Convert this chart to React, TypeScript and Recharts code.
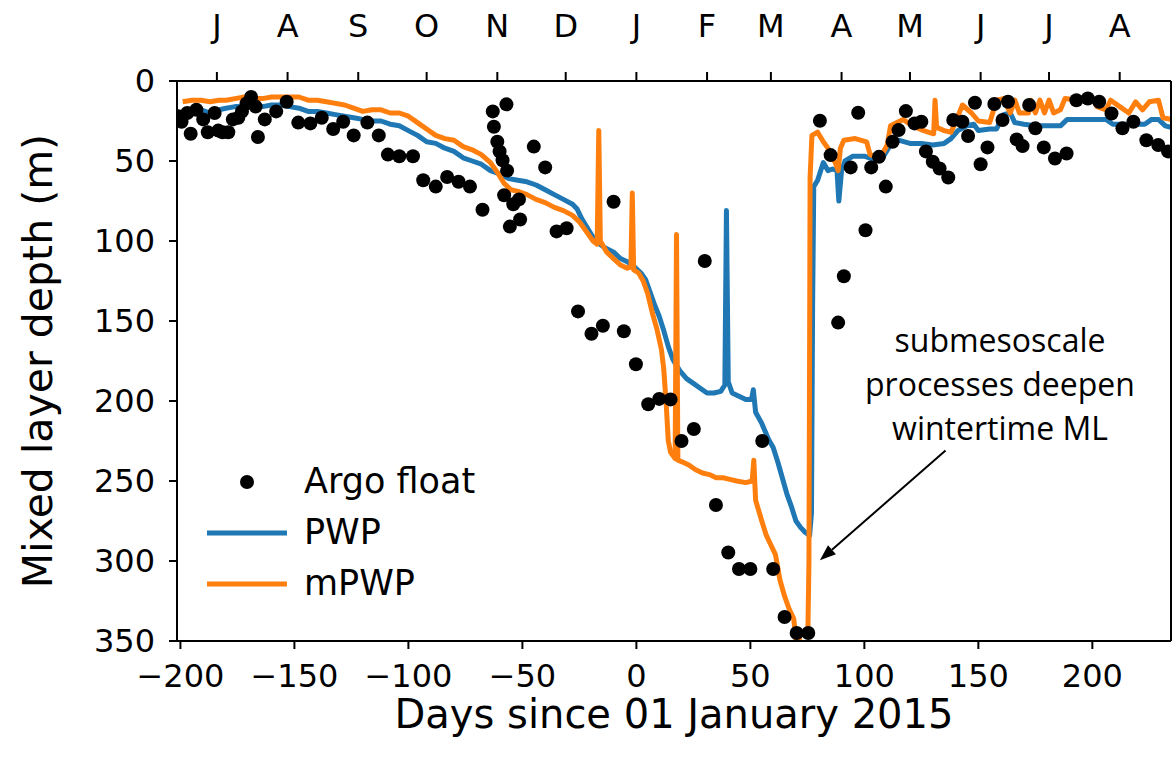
import React from "react";
import {
  ComposedChart,
  Line,
  Scatter,
  XAxis,
  YAxis,
  Legend,
  ReferenceLine,
} from "recharts";

// x = days since 01 January 2015, y = mixed layer depth (m)
const argoFloat: [number, number][] = [
  [-201, 22], [-199.5, 25.5], [-197, 20], [-195.5, 33], [-193, 18], [-190, 24],
  [-188, 32], [-185, 20], [-183.4, 31], [-181.5, 32], [-179, 32], [-177, 24],
  [-174.6, 23], [-173, 19], [-171, 14], [-169, 10], [-167, 16], [-166, 35],
  [-163, 24], [-158, 19], [-153.4, 13], [-148.3, 26], [-143, 26.5], [-138, 23],
  [-133, 30], [-128.6, 25.5], [-124, 34], [-118, 26], [-113, 34], [-109, 46],
  [-104, 47], [-98, 47], [-93.5, 62], [-88, 66], [-83, 60], [-78, 63], [-73, 66],
  [-67.5, 80.5], [-63, 19], [-62.5, 28.6], [-61, 38], [-60, 44], [-58.7, 49.5],
  [-58, 71.4], [-57, 14.6], [-56.7, 56], [-55.5, 91], [-54, 77], [-51.5, 74],
  [-51, 86.6], [-45, 41], [-40, 54], [-35, 94], [-30.6, 92], [-25.6, 144],
  [-19.7, 158], [-14.7, 153], [-10, 75.5], [-5.5, 156.4], [-0.2, 177], [5.2, 202],
  [10, 198.7], [15, 199], [19.8, 225], [25.2, 217.5], [30, 112.5], [34.9, 265],
  [40.3, 294.7], [45, 305], [50, 305], [55.2, 225], [60, 305], [65, 335],
  [70.3, 345], [75.4, 345], [80.5, 24.8], [85.2, 46.3], [88.5, 151], [91, 122],
  [94, 54], [97.3, 19.8], [100.5, 93.3], [103, 54], [106.4, 47.4], [109.4, 66],
  [112.4, 38], [115, 30.7], [118.2, 18.8], [122, 26.5], [125, 25.5], [127, 44],
  [130, 50.5], [133, 54.7], [136.8, 60.3], [139, 24.4], [143, 25.5], [145.5, 34.4],
  [148.5, 13.6], [151, 52], [154, 41.5], [157, 14.4], [160.6, 24.4], [163, 13],
  [166.8, 36.5], [169.4, 40.7], [172.3, 15], [175, 29.6], [178.7, 41.5],
  [183.6, 48.4], [188.7, 45.3], [193, 12], [198, 10.9], [203, 13], [208.4, 20.3],
  [213.2, 29.6], [218, 25.5], [223.7, 37], [228.9, 40], [233.2, 44],
];

const pwp: [number, number][] = [
  [-199, 20], [-195, 19], [-191, 18], [-187, 20], [-183, 18], [-180, 17], [-176, 16],
  [-172, 16], [-168, 15], [-164, 16], [-160, 15], [-156, 15], [-152, 16], [-148, 17],
  [-144, 19], [-140, 19], [-136, 20], [-132, 21], [-128, 22], [-124, 23], [-120, 24],
  [-116, 25], [-112, 25], [-108, 27], [-104, 28], [-100, 31], [-96, 34], [-92, 38],
  [-88, 39], [-84, 42], [-80, 44], [-76, 48], [-72, 50], [-68, 52], [-64, 56],
  [-60, 58], [-56, 61], [-52, 62], [-48, 63], [-44, 65], [-40, 68], [-36, 71],
  [-32, 74], [-28, 77], [-26, 80], [-24, 86], [-21, 93], [-18, 100], [-14, 104],
  [-10, 107], [-7, 111], [-4, 113], [-1, 116], [2, 120], [4, 124], [6, 132], [8, 140],
  [10, 147], [12, 156], [14, 166], [16, 174], [19, 181], [22, 186], [25, 189],
  [28, 192], [31, 195], [34, 195], [37, 194], [38.8, 190], [39.5, 81], [40.3, 188],
  [42, 195], [45, 197], [48, 199], [50.5, 199], [51.3, 193], [52.3, 207], [55, 214],
  [58, 224], [60, 229], [62, 238], [64, 248], [66, 258], [68, 266], [70, 275],
  [72, 279], [74, 282], [76, 284], [76.8, 270], [77.3, 140], [77.8, 66], [79.5, 62],
  [82, 51], [84, 56], [86, 55], [88, 56], [88.8, 75], [90, 56], [91.5, 50], [95, 47],
  [100, 47], [104, 49], [108, 48], [111, 41], [115, 37], [120, 39], [125, 39],
  [130, 40], [135, 39], [138, 36], [141, 31], [145, 28], [148, 27], [150, 31],
  [155, 30], [158, 30], [161, 21], [164, 20], [166, 26], [170, 27], [175, 28],
  [180, 28], [186, 28], [189, 24], [195, 24], [200, 24], [206, 24], [209, 27],
  [215, 27], [220, 27], [223, 27], [226, 24], [229, 24], [232, 28], [234.5, 29],
];

const mpwp: [number, number][] = [
  [-199, 13], [-195, 12], [-191, 12], [-187, 13], [-183, 12], [-180, 12], [-176, 11],
  [-172, 10], [-168, 11], [-164, 11], [-160, 10], [-156, 10], [-152, 10], [-148, 10],
  [-144, 12], [-140, 12], [-136, 13], [-132, 14], [-128, 15], [-124, 17], [-120, 19],
  [-116, 18], [-112, 18], [-108, 20], [-104, 20], [-100, 22], [-96, 26], [-92, 30],
  [-88, 34], [-84, 36], [-80, 37], [-76, 41], [-72, 43], [-68, 46], [-64, 51],
  [-61, 57], [-58, 64], [-55, 68], [-52, 69], [-48, 71], [-44, 74], [-40, 76],
  [-36, 79], [-32, 81], [-28, 84], [-25, 88], [-22, 94], [-19, 100], [-17.2, 102],
  [-16.5, 31], [-15.8, 100], [-13, 107], [-10, 111], [-7, 115], [-4, 117],
  [-2.4, 116], [-1.8, 70], [-1.2, 118], [1, 120], [3, 125], [5, 133], [7, 145],
  [9, 155], [11, 168], [12, 180], [13, 200], [14, 225], [15, 232], [17, 236],
  [17.6, 96], [18.2, 237], [20, 238], [23, 240], [26, 243], [29, 245], [32, 246],
  [35, 248], [38, 248], [41, 249], [44, 250], [48, 251], [50.8, 250], [51.5, 237],
  [52.3, 262], [55, 275], [57, 284], [59, 290], [61, 296], [63, 312], [65, 322],
  [67, 330], [69, 336], [70.5, 356], [72, 345], [74, 346], [75.2, 347], [75.7, 300],
  [76.2, 60], [77, 34], [79.5, 32], [82, 38], [85, 44], [87.5, 52], [88.5, 56],
  [89.5, 42], [91, 37], [96, 36], [101, 38], [102.5, 46], [107, 48], [110, 40],
  [111.5, 28], [117, 24], [121, 28], [126, 31], [130.4, 33], [131, 12], [131.7, 29],
  [135, 31], [138, 32], [140.5, 24], [143, 15], [147, 20], [150, 25], [155, 26],
  [158, 12], [161, 11], [164, 20], [166, 12], [168, 20], [172, 20], [173, 12],
  [175, 20], [177, 12], [179, 20], [181, 12], [183, 20], [186, 18], [188, 11],
  [194, 12], [200, 11], [202, 16], [206, 18], [208, 12], [212, 16], [216, 20],
  [219, 13], [222, 18], [225, 13], [229, 12], [231, 23], [234.5, 24],
];

const dayTicks = [-200, -150, -100, -50, 0, 50, 100, 150, 200];
const depthTicks = [0, 50, 100, 150, 200, 250, 300, 350];
const monthStarts = [-184, -153, -122, -92, -61, -31, 0, 31, 59, 90, 120, 151, 181, 212];
const monthLetters = ["J", "A", "S", "O", "N", "D", "J", "F", "M", "A", "M", "J", "J", "A"];

const annotationLines = ["submesoscale", "processes deepen", "wintertime ML"];
// arrow from the text down to the mPWP minimum (data coords)
const arrowFrom = { x: 135.6, y: 231 };
const arrowTo = { x: 80.5, y: 299.5 };

const PWP_COLOR = "#1f77b4";
const MPWP_COLOR = "#ff7f0e";
const FONT = "'DejaVu Sans', sans-serif";
const DAY_DOMAIN: [number, number] = [-201.5, 234.5];
const DEPTH_DOMAIN: [number, number] = [0, 350];

const toPoints = (rows: [number, number][]) =>
  rows.map(([day, depth]) => ({ day, depth }));

const legendItems = [
  { label: "Argo float", kind: "dot", color: "#000" },
  { label: "PWP", kind: "line", color: PWP_COLOR },
  { label: "mPWP", kind: "line", color: MPWP_COLOR },
];

function LegendBox() {
  return (
    <div style={{ fontFamily: FONT, fontSize: 35, color: "#000" }}>
      {legendItems.map((it) => (
        <div
          key={it.label}
          style={{ display: "flex", alignItems: "center", height: 51 }}
        >
          <svg width={104} height={20}>
            {it.kind === "dot" ? (
              <circle cx={47} cy={10} r={7} fill={it.color} />
            ) : (
              <line x1={7} y1={10} x2={87} y2={10} stroke={it.color} strokeWidth={5} />
            )}
          </svg>
          <span style={{ lineHeight: "51px" }}>{it.label}</span>
        </div>
      ))}
    </div>
  );
}

function Arrow(props: any) {
  const { x1, y1, x2, y2 } = props;
  const ang = Math.atan2(y2 - y1, x2 - x1);
  const len = 16;
  const half = 6;
  const bx = x2 - len * Math.cos(ang);
  const by = y2 - len * Math.sin(ang);
  const px = -Math.sin(ang) * half;
  const py = Math.cos(ang) * half;
  return (
    <g>
      <line x1={x1} y1={y1} x2={bx} y2={by} stroke="#000" strokeWidth={2} />
      <polygon
        points={`${x2},${y2} ${bx + px},${by + py} ${bx - px},${by - py}`}
        fill="#000"
      />
    </g>
  );
}

const ArgoDot = (p: any) => <circle cx={p.cx} cy={p.cy} r={7} fill="#000" />;

const axisLine = { stroke: "#000", strokeWidth: 2 };
const tickStyle = { fontSize: 32, fill: "#000", fontFamily: FONT };

export default function App() {
  return (
    <div style={{ position: "absolute", left: 0, top: 0, width: 1173, height: 765, background: "#fff" }}>
      <ComposedChart width={1173} height={765} margin={{ top: 0, right: 0, bottom: 0, left: 0 }}>
        <XAxis
          xAxisId="bottom"
          type="number"
          dataKey="day"
          domain={DAY_DOMAIN}
          allowDataOverflow
          ticks={dayTicks}
          interval={0}
          height={124}
          tickSize={8}
          tickMargin={15}
          tick={tickStyle}
          tickLine={axisLine}
          axisLine={axisLine}
          tickFormatter={(v: number) => String(v).replace("-", "\u2212")}
          label={{
            value: "Days since 01 January 2015",
            position: "insideBottom",
            offset: 37,
            style: { fontSize: 40, fill: "#000", fontFamily: FONT },
          }}
        />
        <XAxis
          xAxisId="top"
          orientation="top"
          type="number"
          dataKey="day"
          domain={DAY_DOMAIN}
          allowDataOverflow
          ticks={monthStarts}
          interval={0}
          height={81}
          tickSize={9}
          tickMargin={35}
          tick={tickStyle}
          tickLine={axisLine}
          axisLine={axisLine}
          tickFormatter={(v: number) => monthLetters[monthStarts.indexOf(v)]}
        />
        <YAxis
          yAxisId="depth"
          type="number"
          dataKey="depth"
          domain={DEPTH_DOMAIN}
          allowDataOverflow
          reversed
          ticks={depthTicks}
          interval={0}
          width={177}
          tickSize={8}
          tickMargin={14}
          tick={tickStyle}
          tickLine={axisLine}
          axisLine={axisLine}
          label={{
            value: "Mixed layer depth (m)",
            angle: -90,
            position: "insideLeft",
            offset: 37,
            style: { fontSize: 41, fill: "#000", fontFamily: FONT, textAnchor: "middle" },
          }}
        />
        <YAxis
          yAxisId="frame"
          orientation="right"
          type="number"
          domain={DEPTH_DOMAIN}
          allowDataOverflow
          width={2}
          tick={false}
          tickLine={false}
          axisLine={axisLine}
        />
        <Legend
          layout="vertical"
          align="center"
          verticalAlign="middle"
          content={() => <LegendBox />}
          wrapperStyle={{ left: 200, top: 456, width: 320 }}
        />
        <Line
          name="PWP"
          data={toPoints(pwp)}
          dataKey="depth"
          xAxisId="bottom"
          yAxisId="depth"
          type="linear"
          stroke={PWP_COLOR}
          strokeWidth={5}
          strokeLinejoin="round"
          dot={false}
          isAnimationActive={false}
        />
        <Line
          name="mPWP"
          data={toPoints(mpwp)}
          dataKey="depth"
          xAxisId="bottom"
          yAxisId="depth"
          type="linear"
          stroke={MPWP_COLOR}
          strokeWidth={5}
          strokeLinejoin="round"
          dot={false}
          isAnimationActive={false}
        />
        <Scatter
          name="Argo float"
          data={toPoints(argoFloat)}
          dataKey="depth"
          xAxisId="bottom"
          yAxisId="depth"
          fill="#000"
          shape={ArgoDot}
          isAnimationActive={false}
        />
        <ReferenceLine
          xAxisId="bottom"
          yAxisId="depth"
          segment={[arrowFrom, arrowTo]}
          shape={Arrow}
        />
      </ComposedChart>
      <div
        style={{
          position: "absolute",
          left: 820,
          top: 318,
          width: 360,
          textAlign: "center",
          fontFamily: "'Open Sans', sans-serif",
          fontSize: 32,
          lineHeight: "44px",
          color: "#000",
        }}
      >
        {annotationLines.map((l) => (
          <div key={l}>{l}</div>
        ))}
      </div>
    </div>
  );
}
